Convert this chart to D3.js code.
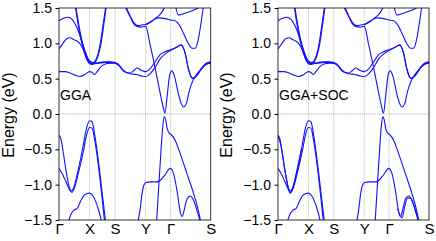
<!DOCTYPE html>
<html>
<head>
<meta charset="utf-8">
<script src="https://cdn.jsdelivr.net/npm/d3@7"></script>
<style>
  body { margin: 0; background: #fff; }
  svg { display: block; }
  text { font-family: "Liberation Sans", Arial, sans-serif; }
</style>
</head>
<body>
<script>
// k-path positions (path length units) and labels
const kTicks = [0, 30.5, 56, 86.5, 111.5, 151.5];
const kLabels = ["Γ", "X", "S", "Y", "Γ", "S"];
const eTicks = [1.5, 1.0, 0.5, 0.0, -0.5, -1.0, -1.5];
const panelLabels = ["GGA", "GGA+SOC"];

// conduction bands, [k, E (eV)]
const cbParabolaA = [[16, 1.55], [18, 1.36], [21, 1.12], [24, 0.93], [27, 0.80], [30, 0.72], [33, 0.70], [36, 0.73], [39, 0.82], [42, 1.0], [44.5, 1.24], [47.5, 1.55]];
const cbParabolaB = [[16.5, 1.55], [18.5, 1.37], [21.5, 1.13], [24.5, 0.95], [27.5, 0.82], [30, 0.74], [33, 0.72], [36, 0.75], [39, 0.85], [41.5, 1.02], [44, 1.26], [47, 1.55]];
const cbUpper = [[0, 1.32], [4, 1.35], [9, 1.37], [13, 1.34], [18, 1.22], [23, 1.02], [27, 0.85], [30.5, 0.75], [36, 0.72], [41, 0.73], [46, 0.74], [51, 0.74], [56, 0.73],
  [59, 0.71], [63, 0.64], [67, 0.59], [71, 0.58], [75, 0.62], [78, 0.65], [82, 0.62], [86.5, 0.60], [91, 0.64], [96, 0.74], [101, 0.84], [106, 0.88], [111.5, 0.91],
  [117, 0.94], [122, 0.98], [126, 0.86], [129, 0.65], [132, 0.52], [134, 0.50], [138, 0.55], [143, 0.65], [147, 0.71], [151.5, 0.73]];
const cbMiddle = [[0, 0.92], [4, 1.0], [8, 1.07], [11, 1.08], [15, 1.05], [20, 1.01], [24, 0.92], [28, 0.78], [30.5, 0.72], [34, 0.71], [40, 0.72], [46, 0.73], [51, 0.73], [56, 0.72],
  [60, 0.68], [65, 0.60], [71, 0.57], [77, 0.56], [82, 0.54], [86.5, 0.53], [91, 0.57], [96, 0.66], [101, 0.78], [106, 0.85], [111.5, 0.90],
  [117, 0.94], [122, 0.975], [126, 0.86], [129, 0.66], [132, 0.53], [134, 0.51], [138, 0.56], [143, 0.66], [147, 0.72], [151.5, 0.74]];
const cbLowest = [[0, 0.60], [6, 0.60], [11, 0.58], [16, 0.55], [21, 0.53], [26, 0.56], [30.5, 0.60], [33, 0.59], [35.5, 0.56], [38, 0.60], [42, 0.67], [47, 0.71], [52, 0.72], [56, 0.72]];
const cbValley = [[65, 1.55], [68, 1.46], [71, 1.38], [74, 1.29], [78, 1.24], [82, 1.23], [86.5, 1.24], [91, 0.98], [96, 0.65], [101, 0.30], [104, 0.10], [105.8, 0.01],
  [108, 0.25], [110.5, 0.55], [112.5, 0.61], [115, 0.55], [119, 0.30], [122, 0.15], [124.3, 0.10], [127, 0.14], [130, 0.32], [133, 0.45], [137, 0.55], [142, 0.64], [147, 0.70], [151.5, 0.72]];
const cbHigh = [[66, 1.55], [69, 1.45], [72, 1.36], [75, 1.29], [79, 1.25], [83, 1.26], [86.5, 1.27], [93, 1.32], [99, 1.36], [106, 1.35], [111.5, 1.33],
  [116, 1.32], [121, 1.24], [125, 1.12], [129, 1.0], [133, 0.93], [136, 0.93], [139, 1.05], [142, 1.3], [144.5, 1.55]];
const cbSteep = [[86.5, 1.26], [92, 1.30], [97, 1.36], [101, 1.41], [104, 1.47], [106.5, 1.55]];
const cbTop = [[116, 1.55], [119.3, 1.40], [124.3, 1.42], [133, 1.46], [142.7, 1.53]];

// valence bands, [k, E (eV)]
const vbA = [[0, -0.30], [2, -0.36], [4, -0.52], [7, -0.80], [10, -1.02], [12.5, -1.09], [15, -1.03], [19, -0.80], [24, -0.46], [27.5, -0.20], [30.5, -0.095], [33, -0.11], [36, -0.32], [39.5, -0.68], [43, -1.10], [46.5, -1.52]];
const vbB = [[0, -0.77], [3, -0.84], [7, -0.96], [10.5, -1.07], [13, -1.11], [16, -1.02], [20, -0.80], [24.5, -0.52], [27.5, -0.30], [30.5, -0.19], [33, -0.20], [36, -0.40], [39.5, -0.75], [42.5, -1.12], [45.5, -1.52]];
const vbC = [[9.5, -1.52], [12, -1.42], [15, -1.36], [18, -1.34], [22, -1.22], [26, -1.14], [30.5, -1.12], [34, -1.16], [37, -1.25], [40, -1.38], [42.5, -1.52]];
const vbY = [[79, -1.52], [81, -1.35], [83, -1.12], [85, -1.0], [87, -0.97], [92, -0.96], [97.5, -0.96], [101, -0.94], [106, -0.86], [111, -0.77], [114.3, -0.84],
  [118, -1.1], [121, -1.38], [123, -1.45], [125, -1.36], [128, -1.2], [131, -1.16], [134, -1.21], [137.5, -1.35], [141, -1.52]];
const vbGamma = [[97.5, -1.52], [99.5, -1.05], [101.5, -0.6], [103.5, -0.2], [105, -0.04], [106.5, -0.08], [108, -0.20], [110, -0.27], [112, -0.29], [116, -0.37],
  [121, -0.56], [127.7, -0.84], [134.3, -1.12], [138, -1.3], [141.5, -1.52]];
// extra split lines that show up with SOC
const vbYsoc = [[120, -1.34], [122.5, -1.44], [124.5, -1.47], [127, -1.32], [130, -1.19], [133, -1.19], [136, -1.28], [139, -1.42], [141, -1.52]];
const vbAsoc = [[0, -0.31], [3, -0.45], [6, -0.72], [9, -0.96], [12, -1.12], [14.5, -1.06], [18.5, -0.84], [24, -0.48]];

const bandsGGA = [cbParabolaA, cbParabolaB, cbUpper, cbMiddle, cbLowest, cbValley, cbHigh, cbSteep, cbTop, vbA, vbB, vbC, vbY, vbGamma];
const bandsSOC = bandsGGA.concat([vbYsoc, vbAsoc]);

let width = 436;
let height = 241;
let plotTop = 8;
let plotBottom = 220;

let panels = [
  { left: 59, right: 210.7, label: panelLabels[0], bands: bandsGGA, titleX: 14 },
  { left: 278, right: 429, label: panelLabels[1], bands: bandsSOC, titleX: 232 }
];

let svg = d3.select("body")
  .append("svg")
  .attr("width", width)
  .attr("height", height);

let yScale = d3.scaleLinear()
  .domain([-1.5, 1.5])
  .range([plotBottom, plotTop]);

let fmt = v => (v < 0 ? "\u2212" : "") + Math.abs(v).toFixed(1);

panels.forEach((p, pi) => {
  let xScale = d3.scaleLinear()
    .domain([kTicks[0], kTicks[kTicks.length - 1]])
    .range([p.left, p.right]);

  let clipId = "clip" + pi;
  svg.append("clipPath")
    .attr("id", clipId)
    .append("rect")
    .attr("x", p.left)
    .attr("y", plotTop)
    .attr("width", p.right - p.left)
    .attr("height", plotBottom - plotTop);

  // vertical lines at high-symmetry points
  svg.append("g")
    .selectAll("line")
    .data(kTicks.slice(1, -1))
    .join("line")
    .attr("x1", d => xScale(d))
    .attr("x2", d => xScale(d))
    .attr("y1", plotTop)
    .attr("y2", plotBottom)
    .attr("stroke", "#aaa")
    .attr("stroke-width", 0.8)
    .attr("stroke-dasharray", "1.2,1");

  // Fermi level
  svg.append("line")
    .attr("x1", p.left)
    .attr("x2", p.right)
    .attr("y1", yScale(0))
    .attr("y2", yScale(0))
    .attr("stroke", "#999")
    .attr("stroke-width", 0.8)
    .attr("stroke-dasharray", "1.2,1");

  let line = d3.line()
    .x(d => xScale(d[0]))
    .y(d => yScale(d[1]))
    .curve(d3.curveMonotoneX);

  svg.append("g")
    .attr("clip-path", "url(#" + clipId + ")")
    .selectAll("path")
    .data(p.bands)
    .join("path")
    .attr("d", line)
    .attr("fill", "none")
    .attr("stroke", "#1010ff")
    .attr("stroke-width", 1.1);

  // frame
  svg.append("rect")
    .attr("x", p.left)
    .attr("y", plotTop)
    .attr("width", p.right - p.left)
    .attr("height", plotBottom - plotTop)
    .attr("fill", "none")
    .attr("stroke", "#000")
    .attr("stroke-width", 0.8);

  let yAxis = d3.axisLeft(yScale)
    .tickValues(eTicks)
    .tickFormat(fmt)
    .tickSize(3.5)
    .tickPadding(3.5)
    .tickSizeOuter(0);

  let gy = svg.append("g")
    .attr("transform", "translate(" + p.left + ",0)")
    .call(yAxis);
  gy.select(".domain").remove();
  gy.selectAll("text")
    .attr("font-size", 14)
    .attr("font-family", "Liberation Sans, Arial, sans-serif")
    .attr("fill", "#000");

  let xAxis = d3.axisBottom(xScale)
    .tickValues(kTicks)
    .tickFormat((d, i) => kLabels[i])
    .tickSize(0)
    .tickPadding(3)
    .tickSizeOuter(0);

  let gx = svg.append("g")
    .attr("transform", "translate(0," + plotBottom + ")")
    .call(xAxis);
  gx.select(".domain").remove();
  gx.selectAll("text")
    .attr("font-size", 15)
    .attr("font-family", "Liberation Sans, Arial, sans-serif")
    .attr("fill", "#000");

  svg.append("text")
    .attr("transform", "translate(" + p.titleX + "," + 115 + ") rotate(-90)")
    .attr("text-anchor", "middle")
    .attr("font-size", 16)
    .text("Energy (eV)");

  svg.append("text")
    .attr("x", p.left + 1)
    .attr("y", 100)
    .attr("font-size", 14)
    .text(p.label);
});
</script>
</body>
</html>
